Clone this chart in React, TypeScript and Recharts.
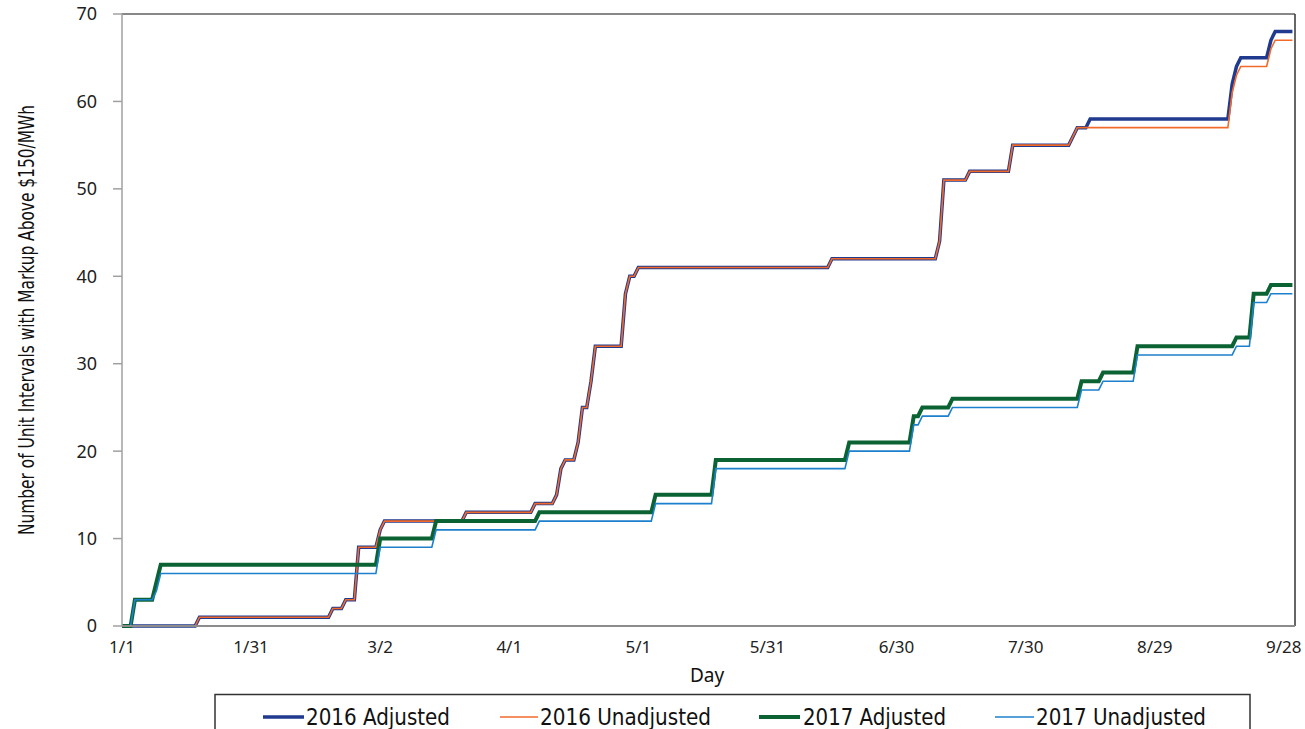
import { LineChart, Line, XAxis, YAxis, ReferenceLine } from "recharts";

// x = day of year counted from 1/1 (day 0)
const DAY_TICKS = [0, 30, 60, 90, 120, 150, 180, 210, 240, 270];
const DAY_LABELS = ["1/1", "1/31", "3/2", "4/1", "5/1", "5/31", "6/30", "7/30", "8/29", "9/28"];
const Y_TICKS = [0, 10, 20, 30, 40, 50, 60, 70];
const LAST_DAY = 272;
const X_MAX = 272.6;

// [day, cumulative count from that day on]
const ADJ_2016: [number, number][] = [
  [0, 0], [18, 1], [49, 2], [52, 3], [55, 9], [60, 11], [61, 12], [80, 13], [96, 14],
  [101, 15], [102, 18], [103, 19], [106, 21], [107, 25], [109, 28], [110, 32], [117, 38],
  [118, 40], [120, 41], [165, 42], [190, 44], [191, 51], [197, 52], [207, 55], [221, 56],
  [222, 57], [225, 58], [258, 62], [259, 64], [260, 65], [267, 67], [268, 68],
];
const UNADJ_2016: [number, number][] = [
  [0, 0], [18, 1], [49, 2], [52, 3], [55, 9], [60, 11], [61, 12], [80, 13], [96, 14],
  [101, 15], [102, 18], [103, 19], [106, 21], [107, 25], [109, 28], [110, 32], [117, 38],
  [118, 40], [120, 41], [165, 42], [190, 44], [191, 51], [197, 52], [207, 55], [221, 56],
  [222, 57], [258, 61], [259, 63], [260, 64], [267, 66], [268, 67],
];
const ADJ_2017: [number, number][] = [
  [0, 0], [3, 3], [8, 5], [9, 7], [60, 10], [73, 12], [97, 13], [124, 15], [138, 19],
  [169, 21], [184, 24], [186, 25], [193, 26], [223, 28], [228, 29], [236, 32], [259, 33],
  [263, 38], [267, 39],
];
const UNADJ_2017: [number, number][] = [
  [0, 0], [3, 3], [8, 4], [9, 6], [60, 9], [73, 11], [97, 12], [124, 14], [138, 18],
  [169, 20], [184, 23], [186, 24], [193, 25], [223, 27], [228, 28], [236, 31], [259, 32],
  [263, 37], [267, 38],
];

// daily counts only change on the listed days, so hold the previous value until the day before
function toPoints(changes: [number, number][]) {
  const pts: { day: number; value: number }[] = [];
  changes.forEach(([day, value]) => {
    const last = pts[pts.length - 1];
    if (last && day - 1 > last.day) pts.push({ day: day - 1, value: last.value });
    pts.push({ day, value });
  });
  pts.push({ day: LAST_DAY, value: pts[pts.length - 1].value });
  return pts;
}

const SERIES = [
  { name: "2016 Adjusted", data: toPoints(ADJ_2016), color: "#1f3a8f", width: 3.5 },
  { name: "2016 Unadjusted", data: toPoints(UNADJ_2016), color: "#f26a2a", width: 1.6 },
  { name: "2017 Adjusted", data: toPoints(ADJ_2017), color: "#0b6333", width: 4 },
  { name: "2017 Unadjusted", data: toPoints(UNADJ_2017), color: "#1d80cc", width: 1.6 },
];

// legend layout: sample line start/end and text start/width
const LEGEND_LAYOUT = [
  { x1: 263, x2: 304, tx: 306, tw: 144 },
  { x1: 500, x2: 538, tx: 540, tw: 171 },
  { x1: 759, x2: 800, tx: 803, tw: 143 },
  { x1: 995, x2: 1034, tx: 1036, tw: 170 },
];
const NARROW = '"Liberation Sans Narrow", "DejaVu Sans Condensed", "Liberation Sans", sans-serif';
const TICK_FONT = '"Noto Sans", "Open Sans", sans-serif';

export default function App() {
  return (
    <div style={{ position: "absolute", left: 0, top: 0, width: 1305, height: 729, background: "#fff", overflow: "hidden" }}>
      <LineChart width={1305} height={729} margin={{ top: 14, right: 10, bottom: 43, left: 60 }}>
        <XAxis
          dataKey="day"
          type="number"
          domain={[0, X_MAX]}
          ticks={DAY_TICKS}
          tickFormatter={(d: number) => DAY_LABELS[DAY_TICKS.indexOf(d)]}
          height={60}
          stroke="#8c8c8c"
          strokeWidth={2}
          tickLine={false}
          tickSize={6}
          tickMargin={9}
          tick={{ fill: "#222", fontSize: 17, fontFamily: TICK_FONT }}
          allowDataOverflow
        />
        <YAxis
          type="number"
          domain={[0, 70]}
          ticks={Y_TICKS}
          width={62}
          stroke="#a0a0a0"
          strokeWidth={1.5}
          tickSize={9}
          tickMargin={16}
          tick={{ fill: "#222", fontSize: 18, fontFamily: TICK_FONT }}
        />
        <ReferenceLine y={70} stroke="#111" strokeWidth={1} />
        <ReferenceLine x={X_MAX} stroke="#333" strokeWidth={1.5} />
        {SERIES.map((s) => (
          <Line
            key={s.name}
            data={s.data}
            dataKey="value"
            name={s.name}
            type="linear"
            stroke={s.color}
            strokeWidth={s.width}
            dot={false}
            activeDot={false}
            isAnimationActive={false}
          />
        ))}
      </LineChart>

      <svg
        width={1305}
        height={729}
        style={{ position: "absolute", left: 0, top: 0, pointerEvents: "none" }}
      >
        <text
          transform="translate(34 320) rotate(-90)"
          textAnchor="middle"
          fontFamily={NARROW}
          fontSize={21}
          fill="#111"
          textLength={430}
          lengthAdjust="spacingAndGlyphs"
        >
          Number of Unit Intervals  with Markup Above $150/MWh
        </text>

        <text x={707} y={682} textAnchor="middle" fontFamily={TICK_FONT} fontSize={19} fill="#111">
          Day
        </text>

        <rect x={215} y={694.5} width={1035} height={60} fill="none" stroke="#333" strokeWidth={1.5} />
        {SERIES.map((s, i) => {
          const l = LEGEND_LAYOUT[i];
          return (
            <g key={s.name}>
              <line x1={l.x1} x2={l.x2} y1={717} y2={717} stroke={s.color} strokeWidth={s.width} />
              <text
                x={l.tx}
                y={725}
                fontFamily={NARROW}
                fontSize={23}
                fill="#111"
                textLength={l.tw}
                lengthAdjust="spacingAndGlyphs"
              >
                {s.name}
              </text>
            </g>
          );
        })}
      </svg>
    </div>
  );
}
